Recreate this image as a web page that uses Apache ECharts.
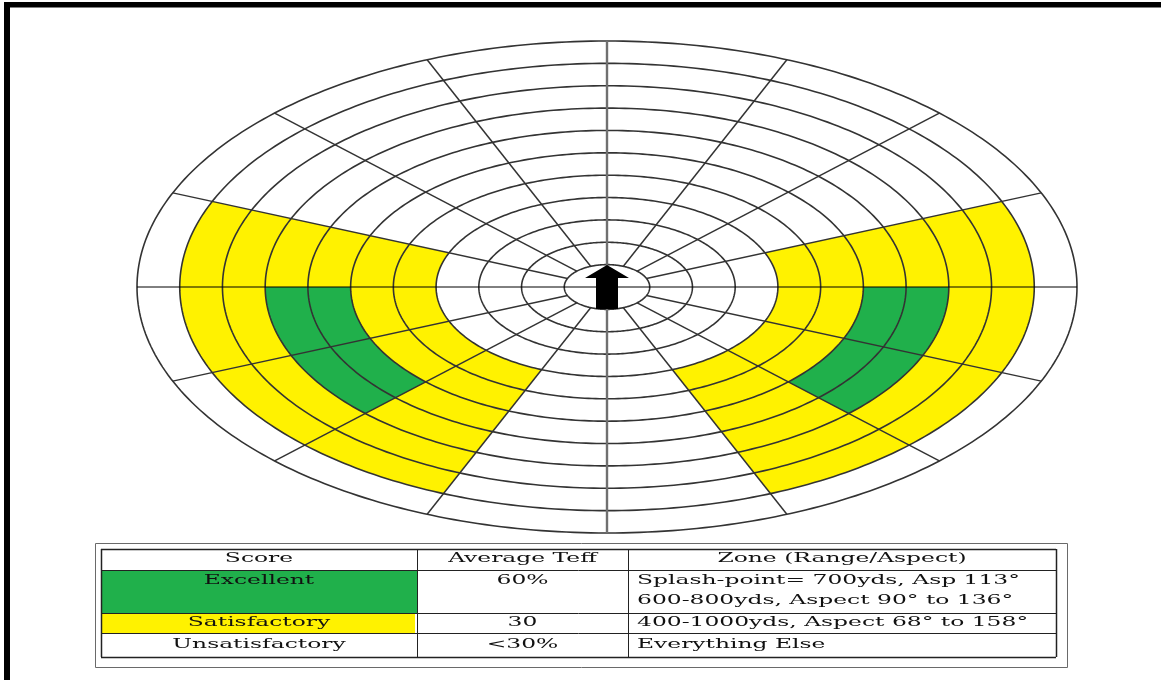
<!DOCTYPE html>
<html>
<head>
<meta charset="utf-8">
<script src="https://cdn.jsdelivr.net/npm/echarts@6/dist/echarts.min.js"></script>
<style>
  html, body { margin: 0; padding: 0; background: #fff; }
  #chart { width: 1161px; height: 680px; }
</style>
</head>
<body>
<div id="chart"></div>
<script>
// ---- Data ----
// Range rings (yards) and bearing spokes (aspect, degrees clockwise from the arrow)
const rangeRings = [100, 200, 300, 400, 500, 600, 700, 800, 900, 1000, 1100];
const spokeAspects = [0, 22.5, 45, 67.5, 90, 112.5, 135, 157.5, 180, 202.5, 225, 247.5, 270, 292.5, 315, 337.5];

// Scoring zones (drawn on both sides of the arrow)
const zoneNames = ['Satisfactory', 'Excellent'];
const zoneMinRange = [400, 600];
const zoneMaxRange = [1000, 800];
const zoneMinAspect = [67.5, 90];
const zoneMaxAspect = [157.5, 135];
const zoneColors = ['#fff200', '#20b04b'];

// Table text
const tableHeaders = ['Score', 'Average Teff', 'Zone (Range/Aspect)'];
const scoreLabels = ['Excellent', 'Satisfactory', 'Unsatisfactory'];
const teffLabels = ['60%', '30', '<30%'];
const zoneLabels = [
  ['Splash-point= 700yds, Asp 113°', '600-800yds, Aspect 90° to 136°'],
  ['400-1000yds, Aspect 68° to 158°'],
  ['Everything Else']
];

// ---- Helpers ----
function pt(api, r, a) {
  const rad = a * Math.PI / 180;
  return api.coord([r * Math.sin(rad), r * Math.cos(rad)]);
}

const zoneSeries = zoneNames.map(function (name, i) {
  const data = [
    [zoneMinRange[i], zoneMaxRange[i], zoneMinAspect[i], zoneMaxAspect[i]],
    [zoneMinRange[i], zoneMaxRange[i], 360 - zoneMaxAspect[i], 360 - zoneMinAspect[i]]
  ];
  return {
    name: name,
    type: 'custom',
    coordinateSystem: 'cartesian2d',
    silent: true,
    data: data,
    renderItem: function (params, api) {
      const r0 = api.value(0), r1 = api.value(1), a0 = api.value(2), a1 = api.value(3);
      const pts = [];
      const n = 60;
      for (let k = 0; k <= n; k++) pts.push(pt(api, r1, a0 + (a1 - a0) * k / n));
      for (let k = n; k >= 0; k--) pts.push(pt(api, r0, a0 + (a1 - a0) * k / n));
      return { type: 'polygon', shape: { points: pts }, style: { fill: zoneColors[i], stroke: null } };
    }
  };
});

const ringSeries = {
  type: 'custom',
  coordinateSystem: 'cartesian2d',
  silent: true,
  data: rangeRings.map(function (r) { return [r, 0]; }),
  renderItem: function (params, api) {
    const r = api.value(0);
    const pts = [];
    for (let a = 0; a <= 360; a += 1) pts.push(pt(api, r, a));
    return { type: 'polyline', shape: { points: pts }, style: { stroke: '#333', lineWidth: 1.6, fill: null } };
  }
};

const innerR = rangeRings[0];
const outerR = rangeRings[rangeRings.length - 1];
const spokeSeries = {
  type: 'custom',
  coordinateSystem: 'cartesian2d',
  silent: true,
  data: spokeAspects.map(function (a) { return [a, 0]; }),
  renderItem: function (params, api) {
    const a = api.value(0);
    let style, r0 = innerR;
    if (a % 180 === 0) { style = { stroke: '#707070', lineWidth: 2.4 }; r0 = 0; }
    else if (a % 180 === 90) { style = { stroke: '#000', lineWidth: 1 }; r0 = 0; }
    else { style = { stroke: '#333', lineWidth: 1.5 }; }
    const p0 = pt(api, r0, a), p1 = pt(api, outerR, a);
    return { type: 'line', shape: { x1: p0[0], y1: p0[1], x2: p1[0], y2: p1[1] }, style: style };
  }
};

const arrowSeries = {
  type: 'scatter',
  silent: true,
  data: [[0, 0]],
  symbol: 'path://M22,0 L44,13 L33,13 L33,44 L11,44 L11,13 L0,13 Z',
  symbolSize: [44, 44],
  itemStyle: { color: '#000', opacity: 1 },
  z: 10
};

// ---- Table graphic ----
const FONT = '13px "DejaVu Serif"';
const SX = 1.8;
const colX = [101, 417, 628, 1056];
const rowY = [549, 570, 613, 633, 657];
const g = [];
// frame border (top and left black bars)
g.push({ type: 'rect', shape: { x: 4, y: 2, width: 1157, height: 5.5 }, style: { fill: '#000' } });
g.push({ type: 'rect', shape: { x: 4, y: 2, width: 6, height: 678 }, style: { fill: '#000' } });
// outer box
g.push({ type: 'rect', shape: { x: 95.5, y: 543.5, width: 972, height: 124 }, style: { fill: null, stroke: '#6a6a6a', lineWidth: 1 } });
// coloured score cells
g.push({ type: 'rect', shape: { x: colX[0], y: rowY[1], width: colX[1] - colX[0], height: rowY[2] - rowY[1] }, style: { fill: zoneColors[1] } });
g.push({ type: 'rect', shape: { x: colX[0], y: rowY[2], width: colX[1] - colX[0] - 2, height: rowY[3] - rowY[2] }, style: { fill: zoneColors[0] } });
// grid lines
rowY.forEach(function (y, i) {
  g.push({ type: 'line', shape: { x1: colX[0], y1: y + 0.5, x2: colX[3], y2: y + 0.5 }, style: { stroke: '#222', lineWidth: (i === 0 || i === rowY.length - 1) ? 1.5 : 1 } });
});
colX.forEach(function (x, i) {
  g.push({ type: 'line', shape: { x1: x + 0.5, y1: rowY[0], x2: x + 0.5, y2: rowY[rowY.length - 1] }, style: { stroke: '#222', lineWidth: (i === 0 || i === colX.length - 1) ? 1.5 : 1 } });
});
function txt(s, x, y, align) {
  g.push({ type: 'text', x: x, y: y, scaleX: SX, style: { text: s, font: FONT, fill: '#111', textAlign: align, textVerticalAlign: 'middle' } });
}
const c1 = (colX[0] + colX[1]) / 2, c2 = (colX[1] + colX[2]) / 2, c3 = (colX[2] + colX[3]) / 2;
txt(tableHeaders[0], c1, 559, 'center');
txt(tableHeaders[1], c2, 559, 'center');
txt(tableHeaders[2], c3, 559, 'center');
const rowTextY = [581, 623, 645];
scoreLabels.forEach(function (s, i) {
  txt(s, c1, rowTextY[i], 'center');
  txt(teffLabels[i], c2, rowTextY[i], 'center');
  zoneLabels[i].forEach(function (line, j) {
    txt(line, 637, rowTextY[i] + j * 20, 'left');
  });
});

const option = {
  animation: false,
  backgroundColor: '#fff',
  grid: { left: 137, top: 41, width: 940, height: 492 },
  xAxis: { type: 'value', min: -outerR, max: outerR, show: false, splitLine: { show: false } },
  yAxis: { type: 'value', min: -outerR, max: outerR, show: false, splitLine: { show: false } },
  series: zoneSeries.concat([ringSeries, spokeSeries, arrowSeries]),
  graphic: g
};

const chart = echarts.init(document.getElementById('chart'));
chart.setOption(option);
</script>
</body>
</html>
